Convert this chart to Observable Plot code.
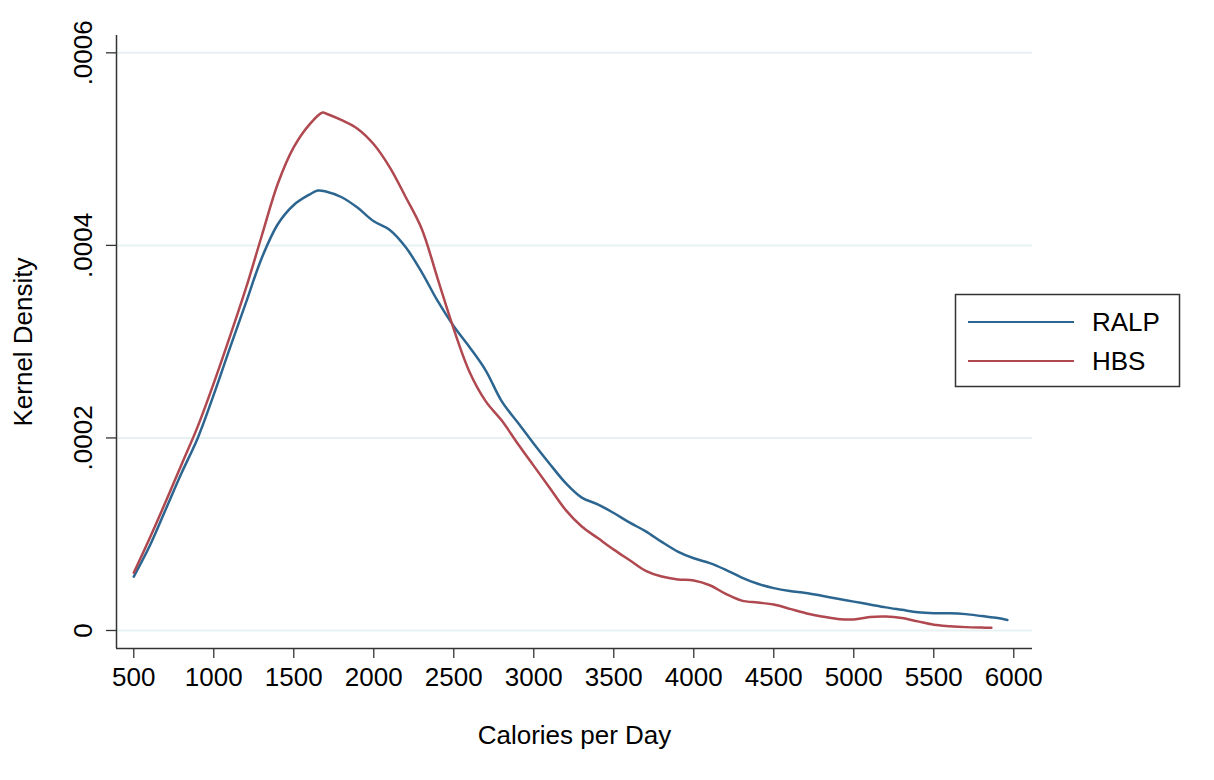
<!DOCTYPE html>
<html>
<head>
<meta charset="utf-8">
<script src="https://cdn.jsdelivr.net/npm/d3@7"></script>
<script src="https://cdn.jsdelivr.net/npm/@observablehq/plot@0.6"></script>
<style>
  body { margin: 0; background: #fff; font-family: "Liberation Sans", Arial, Helvetica, sans-serif; }
  #wrap { position: relative; width: 1214px; height: 780px; overflow: hidden; }
  #legend { position: absolute; left: 0; top: 0; }
</style>
</head>
<body>
<div id="wrap"></div>
<script>
// Series names and colours
const seriesNames = ["RALP", "HBS"];
const seriesColors = ["#2c6690", "#b04850"];

// RALP kernel density (values in units of 1e-4)
const ralpCalories = [500, 600, 700, 800, 900, 1000, 1100, 1200, 1300, 1400, 1500, 1600, 1650, 1700, 1800, 1900, 2000, 2100, 2200, 2300, 2400, 2500, 2600, 2700, 2800, 2900, 3000, 3100, 3200, 3300, 3400, 3500, 3600, 3700, 3800, 3900, 4000, 4100, 4200, 4300, 4400, 4500, 4600, 4700, 4800, 4900, 5000, 5100, 5200, 5300, 5400, 5500, 5600, 5700, 5800, 5900, 5960];
const ralpDensity  = [0.56, 0.88, 1.26, 1.64, 2.00, 2.45, 2.93, 3.40, 3.87, 4.22, 4.42, 4.53, 4.57, 4.56, 4.50, 4.39, 4.25, 4.16, 3.98, 3.72, 3.42, 3.16, 2.94, 2.70, 2.38, 2.16, 1.94, 1.73, 1.53, 1.38, 1.31, 1.22, 1.12, 1.03, 0.92, 0.82, 0.75, 0.70, 0.63, 0.55, 0.485, 0.44, 0.41, 0.39, 0.36, 0.33, 0.30, 0.27, 0.24, 0.215, 0.19, 0.18, 0.18, 0.17, 0.15, 0.13, 0.11];

// HBS kernel density (values in units of 1e-4)
const hbsCalories = [500, 600, 700, 800, 900, 1000, 1100, 1200, 1300, 1400, 1500, 1600, 1680, 1700, 1800, 1900, 2000, 2100, 2200, 2300, 2400, 2500, 2600, 2700, 2800, 2900, 3000, 3100, 3200, 3300, 3400, 3500, 3600, 3700, 3800, 3900, 4000, 4100, 4200, 4300, 4400, 4500, 4600, 4700, 4800, 4900, 5000, 5100, 5200, 5300, 5400, 5500, 5600, 5700, 5800, 5860];
const hbsDensity  = [0.60, 0.96, 1.34, 1.73, 2.12, 2.57, 3.05, 3.55, 4.10, 4.64, 5.02, 5.26, 5.38, 5.37, 5.30, 5.21, 5.05, 4.81, 4.50, 4.17, 3.65, 3.13, 2.68, 2.38, 2.18, 1.94, 1.71, 1.48, 1.25, 1.08, 0.96, 0.84, 0.73, 0.62, 0.56, 0.53, 0.52, 0.47, 0.38, 0.31, 0.29, 0.27, 0.225, 0.18, 0.145, 0.12, 0.115, 0.14, 0.145, 0.13, 0.095, 0.06, 0.045, 0.035, 0.03, 0.028];

// Axis ticks
const xTicks = [500, 1000, 1500, 2000, 2500, 3000, 3500, 4000, 4500, 5000, 5500, 6000];
const yTicks = [0, 0.0002, 0.0004, 0.0006];
const yTickLabels = ["0", ".0002", ".0004", ".0006"];
const xTitle = "Calories per Day";
const yTitle = "Kernel Density";

const data = [
  ...ralpCalories.map((c, i) => ({series: seriesNames[0], cal: c, dens: ralpDensity[i] * 1e-4})),
  ...hbsCalories.map((c, i) => ({series: seriesNames[1], cal: c, dens: hbsDensity[i] * 1e-4}))
];

const xDomain = [392, 6117];
const yDomain = [-0.0000187, 0.000618];
const font = "'Liberation Sans', Arial, Helvetica, sans-serif";

const chart = Plot.plot({
  width: 1214,
  height: 780,
  marginLeft: 116,
  marginRight: 182,
  marginTop: 35,
  marginBottom: 132,
  style: {fontFamily: font, fontSize: "26px", color: "#000", background: "#fff"},
  x: {domain: xDomain},
  y: {domain: yDomain},
  color: {domain: seriesNames, range: seriesColors},
  marks: [
    Plot.ruleY(yTicks, {stroke: "#e8f1f2", strokeWidth: 2}),
    Plot.line(data, {x: "cal", y: "dens", z: "series", stroke: "series", strokeWidth: 2.5, curve: "catmull-rom"}),
    Plot.axisX(xTicks, {tickSize: 10, tickPadding: 9, fontSize: 26, label: null, stroke: "#333", strokeWidth: 1.3, tickFormat: d => String(d)}),
    Plot.axisY(yTicks, {tickSize: 10, label: null, stroke: "#333", strokeWidth: 1.3, tickFormat: () => ""}),
    Plot.text(yTicks, {y: d => d, text: (d, i) => yTickLabels[i], frameAnchor: "left", dx: -33, rotate: -90, textAnchor: "middle", lineAnchor: "middle", fontSize: 26, fill: "#000"}),
    Plot.ruleX([xDomain[0]], {stroke: "#333", strokeWidth: 1.5}),
    Plot.ruleY([yDomain[0]], {stroke: "#333", strokeWidth: 1.5}),
    Plot.text([yTitle], {frameAnchor: "left", dx: -93, rotate: -90, textAnchor: "middle", lineAnchor: "middle", fontSize: 26, fill: "#000"}),
    Plot.text([xTitle], {frameAnchor: "bottom", dy: 87, textAnchor: "middle", lineAnchor: "middle", fontSize: 26, fill: "#000"})
  ]
});

const wrap = document.getElementById("wrap");
wrap.appendChild(chart);

// Legend (outside the plot frame, right side)
const lg = d3.select(wrap).append("svg")
  .attr("id", "legend")
  .attr("width", 1214).attr("height", 780)
  .style("pointer-events", "none");
lg.append("rect")
  .attr("x", 955.5).attr("y", 294.5).attr("width", 224).attr("height", 92)
  .attr("fill", "#fff").attr("stroke", "#333").attr("stroke-width", 1.5);
const rowY = [322, 361];
seriesNames.forEach((name, i) => {
  lg.append("line")
    .attr("x1", 968).attr("x2", 1074).attr("y1", rowY[i]).attr("y2", rowY[i])
    .attr("stroke", seriesColors[i]).attr("stroke-width", 2.2);
  lg.append("text")
    .attr("x", 1092).attr("y", rowY[i]).attr("dy", "0.35em")
    .attr("font-family", font).attr("font-size", 26).attr("fill", "#000")
    .text(name);
});
</script>
</body>
</html>
